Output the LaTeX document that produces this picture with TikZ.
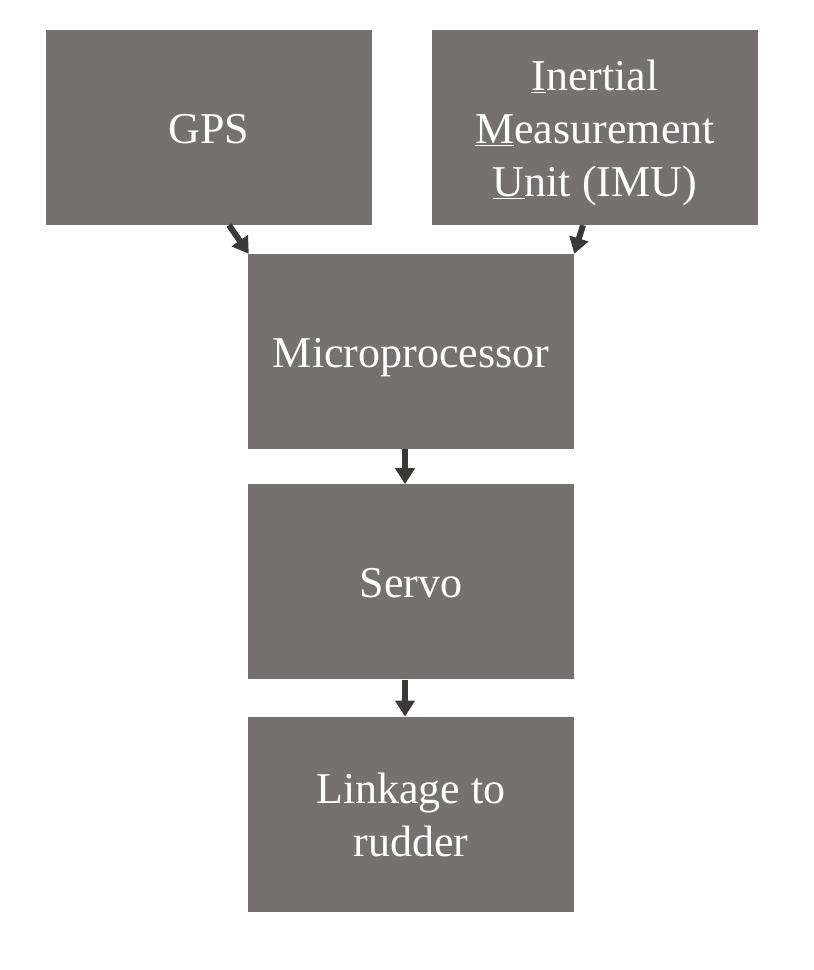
\documentclass[tikz,border=0pt]{standalone}
\usepackage{fontspec}
\setmainfont{Liberation Serif}
\usetikzlibrary{arrows.meta,positioning}
\definecolor{boxgray}{HTML}{767171}
\definecolor{arrowgray}{HTML}{3B3838}
\newcommand{\ul}[1]{\underline{#1}}
% same line box for every text line
\newcommand{\sline}{\rule[-10pt]{0pt}{52pt}}
\tikzset{
  blockbox/.style={rectangle,fill=boxgray,text=white,minimum width=326pt,minimum height=195pt,
    inner sep=0pt,align=center,font=\fontsize{44}{53}\selectfont},
  flowarrow/.style={-{Triangle[width=19pt,length=16pt]},draw=arrowgray,line width=6pt}
}

\begin{document}
\begin{tikzpicture}[x=1pt,y=-1pt,node distance=29pt]
        \useasboundingbox (0,0) rectangle (814,970);
        \node[blockbox] (gps) at (209,127.5) {\sline GPS};
        \node[blockbox] (imu) at (595,127.5) {\sline\ul{I}nertial\\\sline\ul{M}easurement\\\sline\ul{U}nit (IMU)};
        \node[blockbox] (micro) at (411,351.5) {\sline Microprocessor};
        \node[blockbox,below=35pt of micro] (servo) {\sline Servo};
        \node[blockbox,below=37pt of servo] (link) {\sline Linkage to\\\sline rudder};
        \draw[flowarrow] ([xshift=20pt]gps.south) -- ([xshift=1pt]micro.north west);
        \draw[flowarrow] ([xshift=-12pt]imu.south) -- (micro.north east);
        \draw[flowarrow] ([xshift=-6pt]micro.south) -- ([xshift=-6pt]servo.north);
        \draw[flowarrow] ([xshift=-6pt]servo.south) -- ([xshift=-6pt]link.north);
      \end{tikzpicture}
\end{document}
